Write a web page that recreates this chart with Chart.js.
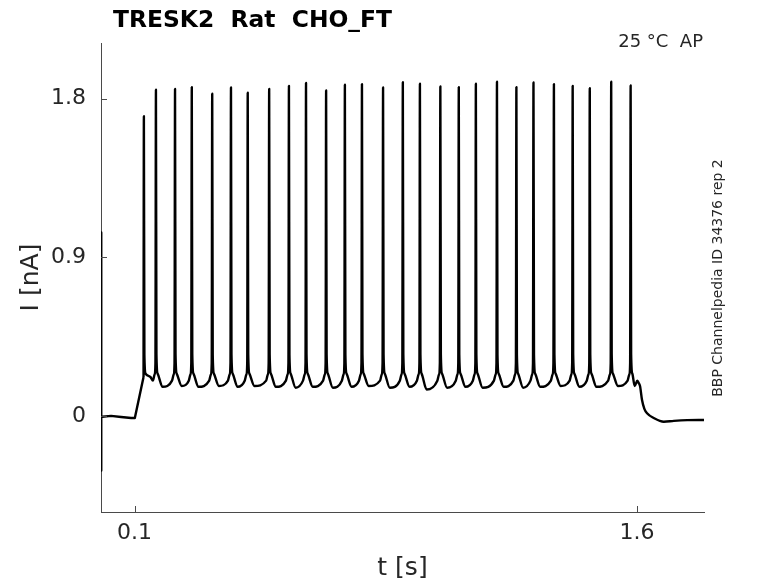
<!DOCTYPE html>
<html>
<head>
<meta charset="utf-8">
<title>TRESK2 Rat CHO_FT</title>
<script src="https://cdn.jsdelivr.net/npm/chart.js@4.4.0/dist/chart.umd.min.js"></script>
<style>
  html, body { margin: 0; padding: 0; background: #fff; }
  #wrap { width: 778px; height: 583px; }
</style>
</head>
<body>
<div id="wrap"><canvas id="myChart" width="778" height="583"></canvas></div>
<script>
// texts
const chartTitle = 'TRESK2  Rat  CHO_FT'
const tempLabel = '25 °C  AP'
const sideLabel = 'BBP Channelpedia ID 34376 rep 2'

// axes
const xTicks = [0.1, 1.6]
const xTickLabels = ['0.1', '1.6']
const yTicks = [0, 0.9, 1.8]
const yTickLabels = ['0', '0.9', '1.8']

// trace before the step (t in s, I in nA), ends at the top of the ramp
const startT = [0, 0.0005, 0.001, 0.004, 0.03, 0.06, 0.09, 0.101, 0.127]
const startI = [1.04, -0.31, 0.0, -0.005, 0.0, -0.006, -0.012, -0.012, 0.22]

// spikes
const spikeT = [0.128, 0.164, 0.221, 0.271, 0.332, 0.388, 0.438, 0.502, 0.561, 0.612, 0.672, 0.728, 0.779, 0.842,
    0.901, 0.952, 1.013, 1.068, 1.119, 1.182, 1.240, 1.291, 1.352, 1.408, 1.459, 1.523, 1.581]
const spikePeak = [1.70, 1.85, 1.854, 1.865, 1.827, 1.863, 1.833, 1.855, 1.872, 1.888, 1.846, 1.878, 1.882, 1.863,
    1.893, 1.884, 1.868, 1.865, 1.884, 1.895, 1.865, 1.891, 1.882, 1.872, 1.859, 1.895, 1.874]
// lowest point after each spike (except the last one)
const troughI = [0.22, 0.165, 0.17, 0.165, 0.17, 0.165, 0.17, 0.165, 0.16, 0.165, 0.16, 0.165, 0.17, 0.16,
    0.165, 0.15, 0.16, 0.165, 0.16, 0.165, 0.16, 0.165, 0.17, 0.165, 0.165, 0.17]

// shape of one spike around its peak
const preDt = [-0.009, -0.004, -0.0015]
const preI = [0.2, 0.235, 0.3]
const postDt = [0.0015, 0.005]
const postI = [0.35, 0.24]
const troughDt = 0.02

// trace after the step
const endT = [1.593, 1.601, 1.604, 1.609, 1.615, 1.622, 1.63, 1.65, 1.68, 1.71, 1.75, 1.8]
const endI = [0.17, 0.2, 0.19, 0.17, 0.09, 0.04, 0.015, -0.012, -0.033, -0.028, -0.024, -0.023]

const axisColor = '#4a4a4a'
const textColor = '#262626'
const fontName = 'DejaVu Sans'

// straight part (transient + ramp)
var ramp = []
startT.forEach((t, i) => ramp.push({ x: t, y: startI[i] }))

// firing part, smoothed
var firing = [ramp[ramp.length - 1]]
spikeT.forEach((t, k) => {
    if (k > 0) preDt.forEach((d, j) => firing.push({ x: t + d, y: preI[j] }))
    firing.push({ x: t, y: spikePeak[k] })
    postDt.forEach((d, j) => firing.push({ x: t + d, y: postI[j] }))
    if (k < troughI.length) firing.push({ x: t + troughDt, y: troughI[k] })
})
endT.forEach((t, i) => firing.push({ x: t, y: endI[i] }))

// inward ticks + free texts
const decor = {
    id: 'decor',
    afterDraw(chart) {
        const ctx = chart.ctx
        const a = chart.chartArea
        const xs = chart.scales.x
        const ys = chart.scales.y
        ctx.save()
        ctx.strokeStyle = axisColor
        ctx.lineWidth = 1
        ctx.beginPath()
        xs.ticks.forEach(tk => {
            const px = Math.round(xs.getPixelForValue(tk.value)) + 0.5
            ctx.moveTo(px, a.bottom)
            ctx.lineTo(px, a.bottom - 6)
        })
        ys.ticks.forEach(tk => {
            const py = Math.round(ys.getPixelForValue(tk.value)) + 0.5
            ctx.moveTo(a.left, py)
            ctx.lineTo(a.left + 6, py)
        })
        ctx.stroke()

        ctx.fillStyle = '#000'
        ctx.font = 'bold 23.4px "' + fontName + '"'
        ctx.textAlign = 'left'
        ctx.textBaseline = 'alphabetic'
        ctx.fillText(chartTitle, 113, 27)

        ctx.fillStyle = textColor
        ctx.font = '18px "' + fontName + '"'
        ctx.textAlign = 'right'
        ctx.fillText(tempLabel, 703, 47)

        ctx.font = '14px "' + fontName + '"'
        ctx.textAlign = 'center'
        ctx.translate(722, 278)
        ctx.rotate(-Math.PI / 2)
        ctx.fillText(sideLabel, 0, 0)
        ctx.restore()
    }
}

Chart.defaults.font.family = fontName

let myChart = new Chart(document.getElementById('myChart').getContext('2d'), {
    type: 'line',
    data: {
        datasets: [{
            label: 'ramp',
            data: ramp,
            borderColor: '#000',
            borderWidth: 2.4,
            borderJoinStyle: 'round',
            pointRadius: 0,
            tension: 0,
            fill: false
        }, {
            label: 'firing',
            data: firing,
            borderColor: '#000',
            borderWidth: 2.4,
            borderJoinStyle: 'round',
            pointRadius: 0,
            cubicInterpolationMode: 'monotone',
            fill: false
        }]
    },
    options: {
        responsive: false,
        animation: false,
        devicePixelRatio: 1,
        layout: { padding: { top: 43, right: 74, bottom: 0, left: 0 } },
        plugins: { legend: { display: false }, tooltip: { enabled: false } },
        scales: {
            x: {
                type: 'linear',
                min: 0,
                max: 1.8,
                afterBuildTicks: scale => { scale.ticks = xTicks.map(v => ({ value: v })) },
                afterFit: scale => { scale.height = 71 },
                grid: { display: false, drawTicks: false },
                border: { display: true, color: axisColor, width: 1 },
                ticks: {
                    padding: 8,
                    color: textColor,
                    font: { size: 22 },
                    maxRotation: 0,
                    autoSkip: false,
                    callback: (v, i) => xTickLabels[i]
                },
                title: {
                    display: true,
                    text: 't [s]',
                    color: textColor,
                    font: { size: 25 },
                    padding: { top: 0, bottom: 0 }
                }
            },
            y: {
                type: 'linear',
                min: -0.545,
                max: 2.115,
                afterBuildTicks: scale => { scale.ticks = yTicks.map(v => ({ value: v })) },
                afterFit: scale => { scale.width = 101 },
                grid: { display: false, drawTicks: false },
                border: { display: true, color: axisColor, width: 1 },
                ticks: {
                    padding: 15,
                    color: textColor,
                    font: { size: 22 },
                    autoSkip: false,
                    callback: (v, i) => yTickLabels[i]
                },
                title: {
                    display: true,
                    text: 'I [nA]',
                    color: textColor,
                    font: { size: 25 },
                    padding: { top: 16, bottom: 0 }
                }
            }
        }
    },
    plugins: [decor]
});
</script>
</body>
</html>
